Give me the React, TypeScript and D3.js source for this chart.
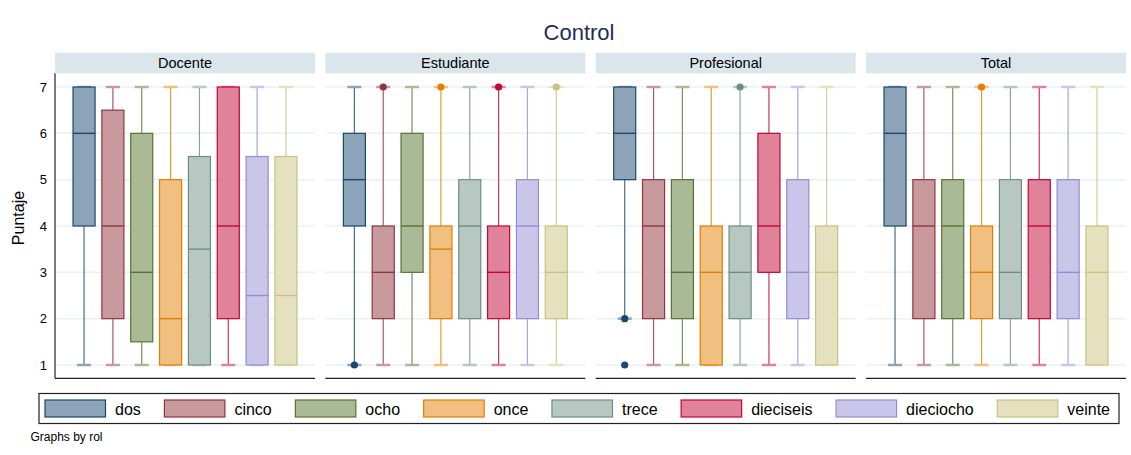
import React, { useEffect, useRef } from 'react';
import * as d3 from 'd3';

// facets and groups
const panels = ['Docente', 'Estudiante', 'Profesional', 'Total'];
const groups = ['dos', 'cinco', 'ocho', 'once', 'trece', 'dieciseis', 'dieciocho', 'veinte'];
const lineColors = ['#1a476f', '#90353b', '#55752f', '#e37e00', '#6e8e84', '#c10534', '#938dd2', '#cac27e'];
const yTicks = [1, 2, 3, 4, 5, 6, 7];

// [lower whisker, q1, median, q3, upper whisker] for each group
const docente = [
  [1, 4, 6, 7, 7],
  [1, 2, 4, 6.5, 7],
  [1, 1.5, 3, 6, 7],
  [1, 1, 2, 5, 7],
  [1, 1, 3.5, 5.5, 7],
  [1, 2, 4, 7, 7],
  [1, 1, 2.5, 5.5, 7],
  [1, 1, 2.5, 5.5, 7],
];
const estudiante = [
  [1, 4, 5, 6, 7],
  [1, 2, 3, 4, 7],
  [1, 3, 4, 6, 7],
  [1, 2, 3.5, 4, 7],
  [1, 2, 4, 5, 7],
  [1, 2, 3, 4, 7],
  [1, 2, 4, 5, 7],
  [1, 2, 3, 4, 7],
];
const profesional = [
  [2, 5, 6, 7, 7],
  [1, 2, 4, 5, 7],
  [1, 2, 3, 5, 7],
  [1, 1, 3, 4, 7],
  [1, 2, 3, 4, 7],
  [1, 3, 4, 6, 7],
  [1, 2, 3, 5, 7],
  [1, 1, 3, 4, 7],
];
const total = [
  [1, 4, 6, 7, 7],
  [1, 2, 4, 5, 7],
  [1, 2, 4, 5, 7],
  [1, 2, 3, 4, 7],
  [1, 2, 3, 5, 7],
  [1, 2, 4, 5, 7],
  [1, 2, 3, 5, 7],
  [1, 1, 3, 4, 7],
];

// outside values per group
const docenteOut = [[], [], [], [], [], [], [], []];
const estudianteOut = [[1], [7], [], [7], [], [7], [], [7]];
const profesionalOut = [[2, 1], [], [], [], [7], [], [], []];
const totalOut = [[], [], [], [7], [], [], [], []];

const stats = [docente, estudiante, profesional, total];
const outs = [docenteOut, estudianteOut, profesionalOut, totalOut];

const FONT = '"Liberation Sans", Arial, Helvetica, sans-serif';

export default function App() {
  const ref = useRef<SVGSVGElement | null>(null);

  useEffect(() => {
    const svg = d3.select(ref.current);
    svg.selectAll('*').remove();

    const fillOf = (c: string) => d3.interpolateRgb(c, '#ffffff')(0.5);

    const px = d3.scaleBand().domain(panels).range([55, 1126]).paddingInner(0.0382).paddingOuter(0);
    const x = d3.scaleBand().domain(groups).range([0, px.bandwidth()]).paddingInner(0.236).paddingOuter(0.625);
    const y = d3.scaleLinear().domain([1, 7]).range([365, 87]);
    const plotTop = 73.3;
    const plotBottom = 378.3;

    // title
    svg.append('text')
      .attr('x', 579).attr('y', 40)
      .attr('text-anchor', 'middle')
      .style('font-size', '22px')
      .attr('fill', '#1f2d57')
      .text('Control');

    // y label
    svg.append('text')
      .attr('transform', 'translate(23.5,218) rotate(-90)')
      .attr('text-anchor', 'middle')
      .style('font-size', '16px')
      .attr('fill', '#000')
      .text('Puntaje');

    panels.forEach((p, pi) => {
      const g = svg.append('g').attr('transform', 'translate(' + px(p) + ',0)');
      const w = px.bandwidth();

      // strip header
      g.append('rect')
        .attr('x', 0).attr('y', 52.7)
        .attr('width', w).attr('height', plotTop - 52.7)
        .attr('fill', '#dae6ec');
      g.append('text')
        .attr('x', w / 2).attr('y', 67.5)
        .attr('text-anchor', 'middle')
        .style('font-size', '14.5px')
        .attr('fill', '#000')
        .text(p);

      // grid
      g.selectAll('line.grid').data(yTicks).enter().append('line')
        .attr('class', 'grid')
        .attr('x1', 0).attr('x2', w)
        .attr('y1', d => y(d)).attr('y2', d => y(d))
        .attr('stroke', '#eaf1f3').attr('stroke-width', 1.5);

      // x axis line
      g.append('line')
        .attr('x1', 0).attr('x2', w)
        .attr('y1', plotBottom).attr('y2', plotBottom)
        .attr('stroke', '#222').attr('stroke-width', 1.2);

      if (pi === 0) {
        g.append('line')
          .attr('x1', 0).attr('x2', 0)
          .attr('y1', plotTop).attr('y2', plotBottom)
          .attr('stroke', '#222').attr('stroke-width', 1.2);
        g.selectAll('text.tick').data(yTicks).enter().append('text')
          .attr('class', 'tick')
          .attr('x', -8).attr('y', d => y(d))
          .attr('dy', '0.36em')
          .attr('text-anchor', 'end')
          .style('font-size', '13px')
          .attr('fill', '#000')
          .text(d => d);
      }

      groups.forEach((grp, gi) => {
        const s = stats[pi][gi];
        const c = lineColors[gi];
        const f = fillOf(c);
        const bx = x(grp) as number;
        const bw = x.bandwidth();
        const cx = bx + bw / 2;

        // whiskers
        g.append('line')
          .attr('x1', cx).attr('x2', cx)
          .attr('y1', y(s[0])).attr('y2', y(s[4]))
          .attr('stroke', c).attr('stroke-opacity', 0.8).attr('stroke-width', 1.2);
        [s[0], s[4]].forEach(v => {
          g.append('line')
            .attr('x1', cx - 7).attr('x2', cx + 7)
            .attr('y1', y(v)).attr('y2', y(v))
            .attr('stroke', f).attr('stroke-width', 2.5);
        });

        // box
        g.append('rect')
          .attr('x', bx).attr('width', bw)
          .attr('y', y(s[3])).attr('height', y(s[1]) - y(s[3]))
          .attr('fill', f)
          .attr('stroke', c).attr('stroke-width', 1.2);
        g.append('line')
          .attr('x1', bx).attr('x2', bx + bw)
          .attr('y1', y(s[2])).attr('y2', y(s[2]))
          .attr('stroke', c).attr('stroke-width', 1.4);

        // outside values
        outs[pi][gi].forEach(v => {
          g.append('circle')
            .attr('cx', cx).attr('cy', y(v)).attr('r', 3.6)
            .attr('fill', c);
        });
      });
    });

    // legend
    const leg = svg.append('g');
    leg.append('rect')
      .attr('x', 39).attr('y', 393.5)
      .attr('width', 1119 - 39).attr('height', 30)
      .attr('fill', '#fff').attr('stroke', '#222').attr('stroke-width', 1.2);

    const items = groups.map((grp, gi) => {
      const it = leg.append('g');
      it.append('rect')
        .attr('x', 0).attr('y', 400)
        .attr('width', 60.5).attr('height', 17)
        .attr('fill', fillOf(lineColors[gi]))
        .attr('stroke', lineColors[gi]).attr('stroke-width', 1.2);
      const t = it.append('text')
        .attr('x', 70).attr('y', 414.5)
        .style('font-size', '16px')
        .attr('fill', '#000')
        .text(grp);
      const tw = (t.node() as SVGTextElement).getComputedTextLength();
      return { it, width: 70 + tw };
    });
    const used = d3.sum(items, d => d.width);
    const gap = (1110 - 45 - used) / (items.length - 1);
    let cursor = 45;
    items.forEach(d => {
      d.it.attr('transform', 'translate(' + cursor + ',0)');
      cursor += d.width + gap;
    });

    svg.append('text')
      .attr('x', 30.5).attr('y', 441)
      .style('font-size', '12px')
      .attr('fill', '#000')
      .text('Graphs by rol');
  }, []);

  return (
    <svg
      ref={ref}
      width={1131}
      height={455}
      style={{ position: 'absolute', left: 0, top: 0, background: '#fff', fontFamily: FONT }}
    />
  );
}
